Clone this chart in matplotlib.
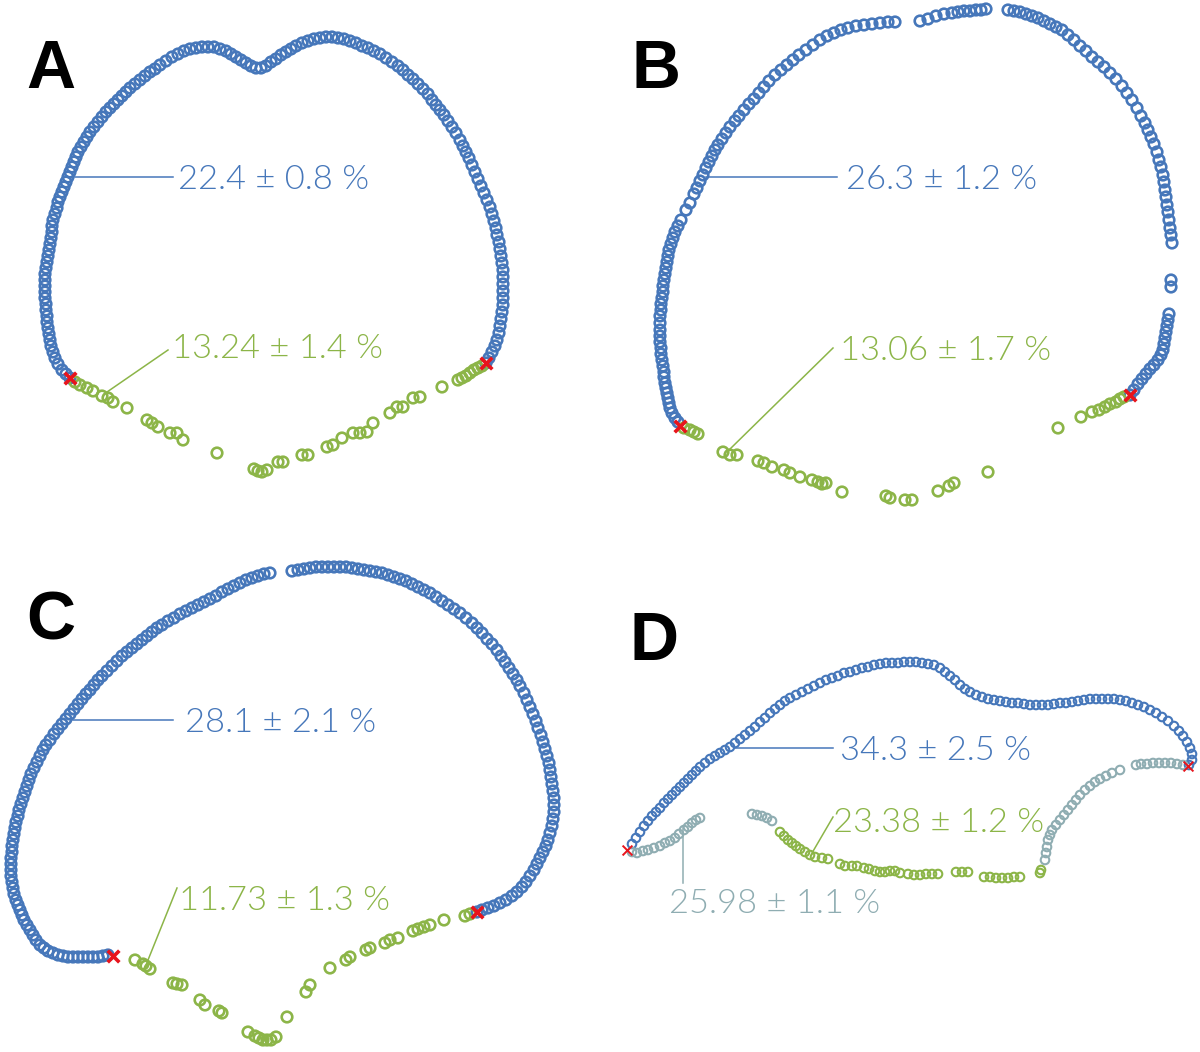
import matplotlib
matplotlib.use("Agg")
import matplotlib.pyplot as plt
import numpy as np

# ---------------- data (outline points, image pixel coordinates) ----------------
A_blue = [(70,378),(66,374),(62,370),(58,364),(55,358),(53,352),(51,346),(50,340),(49,334),(48,328),(47,322),(47,316),
(46,310),(46,304),(45,298),(45,292),(45,286),(45,280),(45,274),(46,268),(47,262),(48,256),(49,250),(50,244),(51,238),
(52,232),(52,226),(53,220),(55,214),(57,208),(58,202),(60,197),(62,192),(64,187),(66,182),(68,177),(70,172),(72,167),
(74,162),(76,157),(78,152),(81,147),(84,142),(87,137),(90,132),(94,127),(98,122),(102,117),(106,112),(110,108),(114,104),
(118,100),(122,96),(126,92),(130,88),(135,84),(140,80),(145,76),(150,72),(155,69),(160,65),(166,61),(172,57),(178,54),
(184,51),(190,49),(196,48),(202,47),(208,47),(214,47),(220,49),(226,51),(231,54),(236,57),(241,60),(246,63),(251,66),
(256,68),(261,68),(266,66),(271,62),(276,59),(281,55),(286,52),(291,49),(296,46),(302,43),(308,41),(314,39),(320,38),
(326,37),(332,37),(338,38),(344,39),(350,41),(356,43),(362,46),(368,48),(374,51),(380,54),(386,58),(392,62),(398,66),
(403,70),(408,75),(413,79),(418,84),(423,89),(428,94),(432,100),(436,105),(440,110),(444,115),(448,121),(452,127),
(456,133),(460,140),(463,146),(466,152),(469,158),(472,165),(475,172),(478,179),(481,186),(484,193),(487,200),(490,207),
(492,214),(494,221),(496,228),(497,235),(499,242),(500,249),(501,256),(502,263),(503,270),(503,277),(503,284),(503,291),
(503,298),(503,305),(502,312),(501,319),(500,326),(499,333),(497,340),(495,346),(492,352),(489,358),(486,363)]
A_green = [(482,366),(478,368),(474,370),(470,373),(466,376),(462,378),(458,380),(442,387),(420,397),(413,398),(403,407),
(397,407),(390,413),(373,423),(367,432),(360,433),(353,433),(342,438),(333,445),(327,447),(308,455),(302,455),(283,462),
(278,462),(267,470),(262,472),(258,471),(254,469),(217,453),(183,440),(177,433),(170,433),(158,427),(152,423),(147,420),
(127,408),(113,402),(108,398),(102,396),(93,391),(87,388),(80,385),(75,382)]
A_marks = [(70,378),(486,363)]

B_blue = [(678,422),(675,418),(672,413),(670,408),(669,403),(668,398),(667,393),(666,388),(665,383),(664,377),(664,372),
(663,366),(662,360),(661,354),(661,348),(660,342),(660,336),(660,330),(660,323),(660,316),(661,310),(661,304),(662,298),
(663,292),(663,286),(664,280),(665,274),(666,268),(667,262),(668,256),(669,250),(671,244),(673,238),(675,232),(678,226),
(681,220),(686,210),(690,203),(694,194),(697,188),(700,181),(703,175),(706,168),(709,162),(712,156),(715,150),(718,145),
(722,139),(726,133),(730,127),(735,121),(739,116),(744,110),(749,104),(754,99),(759,93),(764,87),(769,81),(775,75),
(781,70),(787,65),(793,60),(799,55),(806,50),(813,45),(820,40),(827,36),(834,33),(841,30),(848,28),(856,26),(864,25),
(872,24),(880,23),(888,22),(895,22),(920,21),(928,19),(936,16),(944,14),(952,13),(958,12),(964,11),(970,11),(976,10),
(981,10),(986,9),(1008,10),(1014,11),(1020,12),(1026,14),(1032,16),(1038,18),(1044,21),(1050,24),(1056,27),(1062,30),
(1068,35),(1074,40),(1080,46),(1086,51),(1092,57),(1098,62),(1104,67),(1110,73),(1116,79),(1122,86),(1127,93),(1132,100),
(1137,108),(1141,116),(1145,123),(1148,130),(1151,137),(1154,144),(1157,152),(1159,160),(1161,167),(1163,175),(1164,182),
(1165,190),(1166,197),(1167,205),(1168,212),(1169,220),(1170,228),(1171,235),(1172,243),(1171,280),(1171,287),(1169,314),
(1168,320),(1167,326),(1166,332),(1165,338),(1164,344),(1163,350),(1161,355),(1158,360),(1154,365),(1150,369),(1146,374),
(1142,379),(1138,384),(1134,390),(1130,395)]
B_green = [(684,428),(690,430),(694,432),(698,434),(723,452),(730,455),(737,455),(758,461),(764,463),(772,467),(784,470),
(790,473),(800,477),(812,480),(818,482),(822,484),(826,483),(842,492),(886,496),(890,498),(905,500),(912,500),(938,491),
(949,486),(954,483),(988,472),(1058,428),(1081,417),(1092,412),(1099,410),(1105,407),(1110,404),(1116,402),(1120,399),
(1124,397)]
B_marks = [(680,426),(1130,395)]

C_blue = [(108,955),(103,956),(98,957),(93,957),(88,957),(83,957),(78,957),(73,957),(68,957),(63,956),(58,955),(53,953),
(48,951),(44,948),(40,945),(36,940),(33,935),(30,930),(27,925),(24,920),(22,915),(20,910),(18,905),(16,900),(14,894),
(13,888),(12,882),(11,876),(11,870),(11,864),(11,858),(12,852),(12,846),(13,840),(14,834),(15,828),(16,822),(18,816),
(19,810),(21,804),(23,798),(25,792),(27,786),(29,780),(31,774),(34,768),(37,762),(40,756),(43,750),(46,745),(50,740),
(54,734),(58,729),(62,724),(66,719),(70,714),(74,709),(78,704),(82,699),(86,694),(90,690),(94,685),(98,680),(102,676),
(107,671),(112,666),(117,661),(122,656),(127,652),(132,648),(137,644),(142,640),(147,636),(152,632),(157,628),(162,625),
(168,621),(174,618),(180,614),(186,611),(192,608),(198,605),(204,602),(210,599),(216,596),(222,592),(228,589),(234,586),
(240,583),(246,580),(252,578),(258,576),(264,574),(270,573),(292,571),(298,570),(304,569),(310,568),(316,567),(322,567),
(328,567),(334,567),(340,567),(346,567),(352,568),(358,569),(364,570),(370,571),(376,572),(382,573),(388,575),(394,577),
(400,579),(406,581),(412,584),(418,587),(424,590),(430,593),(436,597),(442,601),(448,605),(454,609),(460,613),(466,618),
(472,623),(477,628),(482,633),(487,639),(492,644),(497,650),(501,656),(505,662),(509,668),(513,674),(517,680),(520,686),
(524,693),(527,700),(530,707),(533,714),(536,721),(538,728),(541,735),(543,742),(545,749),(547,756),(549,763),(550,770),
(551,777),(552,784),(553,791),(554,798),(554,805),(554,812),(553,819),(552,826),(550,833),(548,840),(546,846),(543,852),
(540,858),(537,864),(534,870),(530,876),(526,882),(522,887),(517,892),(512,896),(506,900),(500,903),(494,906),(488,908),
(482,910),(477,912)]
C_green = [(470,914),(465,916),(444,920),(430,925),(424,927),(418,929),(413,931),(398,938),(390,940),(385,943),(370,948),
(366,950),(350,957),(346,960),(330,968),(310,985),(306,992),(287,1017),(276,1037),(271,1040),(267,1040),(263,1040),
(259,1038),(255,1036),(248,1032),(222,1013),(219,1011),(205,1005),(200,1000),(182,985),(177,984),(173,983),(150,969),
(146,966),(143,964),(135,960)]
C_marks = [(113,956),(477,912)]

D_blue = [(632,844),(636,838),(640,832),(644,826),(648,821),(652,816),(656,812),(660,808),(664,803),(668,799),(672,795),
(676,791),(680,787),(684,783),(688,779),(692,775),(696,771),(700,767),(705,763),(710,759),(715,756),(720,753),(725,750),
(730,747),(735,743),(740,739),(745,735),(750,731),(755,727),(760,722),(765,718),(770,713),(775,709),(780,705),(785,701),
(790,698),(796,695),(802,692),(808,689),(814,686),(820,683),(826,680),(832,678),(838,676),(844,673),(850,672),(856,670),
(862,668),(868,667),(874,665),(880,664),(886,663),(892,663),(898,663),(904,662),(910,662),(916,662),(922,663),(928,664),
(934,665),(940,668),(945,672),(950,676),(955,680),(960,685),(965,689),(970,692),(976,695),(982,697),(988,699),(994,700),
(1000,701),(1006,702),(1012,703),(1018,703),(1024,704),(1030,705),(1036,705),(1042,705),(1048,705),(1054,704),(1060,703),
(1066,703),(1072,702),(1078,701),(1084,700),(1090,699),(1096,699),(1102,699),(1108,699),(1114,699),(1120,700),(1126,701),
(1132,703),(1138,705),(1144,707),(1150,710),(1156,713),(1162,717),(1168,721),(1174,726),(1179,731),(1183,736),(1187,742),
(1190,748),(1192,754),(1192,760),(1189,765)]
D_gray = [(1183,765),(1177,764),(1171,763),(1165,763),(1159,763),(1153,763),(1147,764),(1141,764),(1136,765),(1120,770),
(1112,773),(1106,776),(1100,779),(1095,782),(1090,786),(1085,790),(1080,795),(1076,800),(1072,805),(1068,810),(1064,815),
(1060,820),(1056,825),(1052,830),(1050,835),(1048,840),(1047,847),(1046,853),(1045,860),
(632,852),(637,853),(643,851),(648,850),(654,848),(660,846),(665,843),(670,841),(675,838),(679,834),(684,830),(688,827),
(692,823),(696,820),(700,818),(752,814),(757,815),(762,816),(767,818),(772,821)]
D_green = [(780,832),(784,836),(788,840),(792,843),(796,846),(800,849),(805,852),(810,855),(815,857),(822,858),(828,859),
(840,864),(845,866),(852,866),(857,866),(864,868),(869,869),(875,871),(880,872),(885,872),(890,871),(895,871),(900,873),
(908,874),(914,875),(920,875),(926,874),(932,874),(938,874),(956,872),(962,872),(968,872),(984,877),(990,877),(996,878),
(1002,878),(1008,878),(1014,877),(1020,877),(1040,873),(1041,870)]
D_marks = [(627,850),(1188,766)]

# labels: (text, text_x, baseline_y, leader from, leader to, colour key)
A_labels = [("22.4 ± 0.8 %", 178, 189, (75,177), (173,177), "blue"),
            ("13.24 ± 1.4 %", 172, 358, (107,392), (168,350), "green")]
B_labels = [("26.3 ± 1.2 %", 846, 189, (706,177), (837,177), "blue"),
            ("13.06 ± 1.7 %", 840, 360, (729,450), (833,348), "green")]
C_labels = [("28.1 ± 2.1 %", 185, 732, (73,720), (173,720), "blue"),
            ("11.73 ± 1.3 %", 179, 910, (146,965), (177,888), "green")]
D_labels = [("34.3 ± 2.5 %", 840, 760, (735,748), (833,748), "blue"),
            ("23.38 ± 1.2 %", 833, 832, (812,853), (833,817), "green"),
            ("25.98 ± 1.1 %", 669, 913, (683,827), (683,883), "gray")]
panel_letters = [("A", 26, 88), ("B", 632, 88), ("C", 26, 640), ("D", 630, 660)]

COL = {"blue": "#4677BA", "green": "#8CB548", "gray": "#8FADB2", "red": "#E8141C"}

# ---------------- drawing ----------------
fig = plt.figure(figsize=(12, 10.52), dpi=100)
ax = fig.add_axes([0, 0, 1, 1])
ax.set_xlim(0, 1200)
ax.set_ylim(1052, 0)
ax.axis("off")

def pts(lst):
    a = np.array(lst, dtype=float)
    return a[:, 0], a[:, 1]

def circles(lst, color, s=58, lw=1.9):
    x, y = pts(lst)
    ax.scatter(x, y, s=s, facecolors="none", edgecolors=color, linewidths=lw, zorder=2)

for blue, green, marks in [(A_blue, A_green, A_marks), (B_blue, B_green, B_marks), (C_blue, C_green, C_marks)]:
    circles(blue, COL["blue"])
    circles(green, COL["green"])
    x, y = pts(marks)
    ax.scatter(x, y, s=70, marker="x", color=COL["red"], linewidths=2.6, zorder=4)

circles(D_blue, COL["blue"], s=38, lw=1.5)
circles(D_gray, COL["gray"], s=38, lw=1.5)
circles(D_green, COL["green"], s=38, lw=1.5)
x, y = pts(D_marks)
ax.scatter(x, y, s=50, marker="x", color=COL["red"], linewidths=1.4, zorder=4)

fam = ["Lato", "DejaVu Sans"]
for labels in [A_labels, B_labels, C_labels, D_labels]:
    for txt, tx, ty, p0, p1, c in labels:
        ax.plot([p0[0], p1[0]], [p0[1], p1[1]], color=COL[c], lw=1.1, zorder=3)
        ax.text(tx, ty, txt, color=COL[c], fontsize=24.8, family=fam, fontweight=300,
                ha="left", va="baseline", zorder=5)

for L, lx, ly in panel_letters:
    ax.text(lx, ly, L, fontsize=49, fontweight="heavy", family=["Liberation Sans", "DejaVu Sans"],
            color="black", ha="left", va="baseline")

fig.savefig("out.png", dpi=100)
